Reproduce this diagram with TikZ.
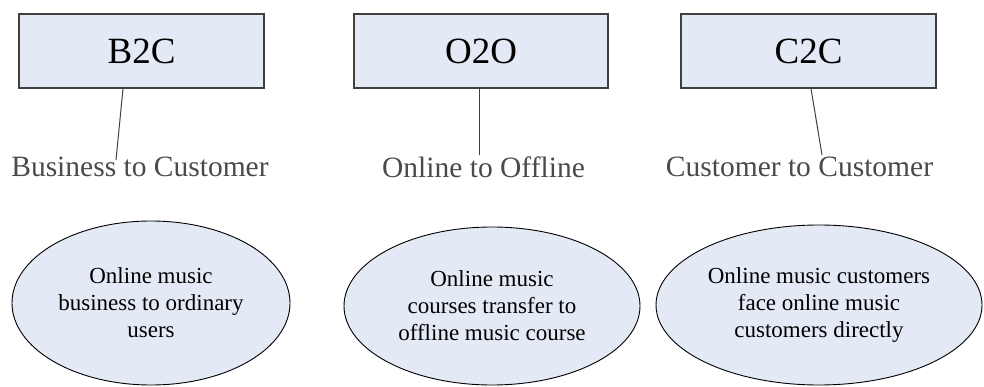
\documentclass[tikz,border=0pt]{standalone}
\usepackage{fontspec}
\setmainfont{Liberation Serif}
\usetikzlibrary{shapes.geometric}
\definecolor{panel}{HTML}{E4EAF5}
\definecolor{edge}{HTML}{404040}
\definecolor{labelgray}{HTML}{4A4A4A}
\tikzset{
  modelbox/.style={draw=edge, line width=1.3pt, fill=panel, minimum height=74pt,
    inner sep=0pt, font=\fontsize{37}{40}\selectfont},
  meaning/.style={text=labelgray, inner sep=0pt, font=\fontsize{29.5}{32}\selectfont},
  tie/.style={draw=edge, line width=1pt},
  idea/.style={ellipse, draw=black, line width=0.9pt, fill=panel, inner sep=0pt,
    align=center, font=\fontsize{23}{27}\selectfont}
}
\begin{document}
\begin{tikzpicture}[x=1pt,y=-1pt]
\useasboundingbox (0,0) rectangle (984,387);
% model boxes
\node[modelbox, minimum width=245pt] (b2c) at (141.5,51) {B2C};
\node[modelbox, minimum width=254pt] (o2o) at (481,51) {O2O};
\node[modelbox, minimum width=255pt] (c2c) at (808.5,51) {C2C};
% expansions of the abbreviations
\node[meaning] (b2cl) at (140,167) {Business to Customer};
\node[meaning] (o2ol) at (483.5,167) {Online to Offline};
\node[meaning] (c2cl) at (799.5,167) {Customer to Customer};
% leader lines from the boxes to their expansions
\coordinate (b2cend) at (116,160);
\coordinate (o2oend) at (479,155);
\coordinate (c2cend) at (822,155);
\draw[tie] ([xshift=-18.5pt]b2c.south) -- (b2cend);
\draw[tie] ([xshift=-2pt]o2o.south) -- (o2oend);
\draw[tie] ([xshift=2.5pt]c2c.south) -- (c2cend);
% descriptions
\node[idea, minimum width=278pt, minimum height=164pt] (b2cd) at (151,303)
  {Online music\\business to ordinary\\users};
\node[idea, minimum width=296pt, minimum height=158pt] (o2od) at (492,306)
  {Online music\\courses transfer to\\offline music course};
\node[idea, minimum width=326pt, minimum height=160pt] (c2cd) at (819,305)
  {Online music customers\\face online music\\customers directly};
\end{tikzpicture}
\end{document}
